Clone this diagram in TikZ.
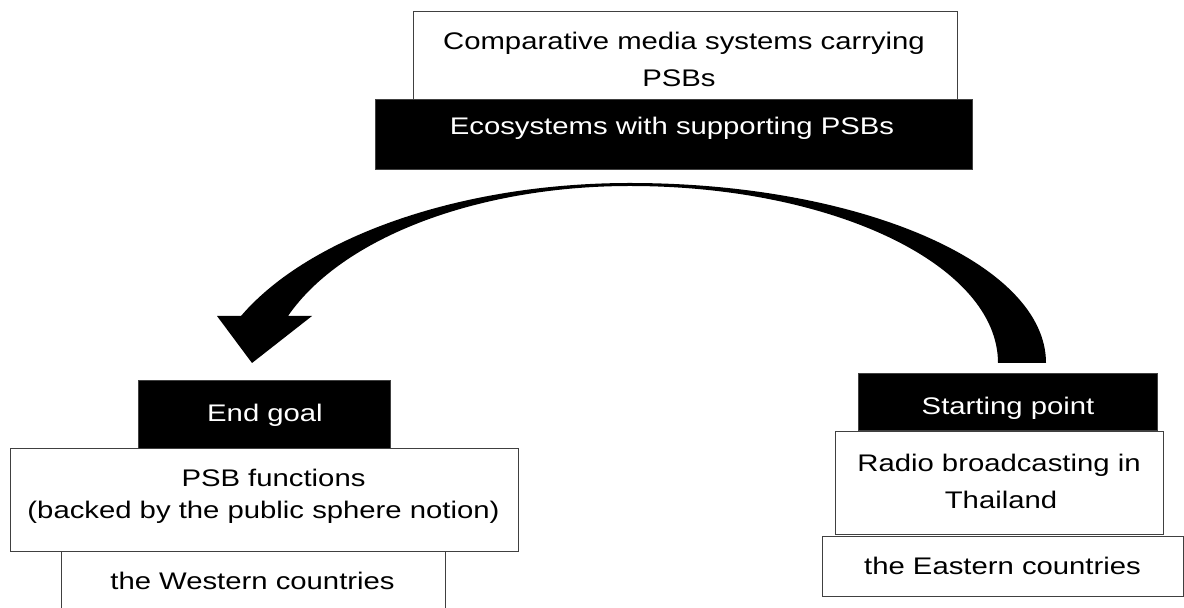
\documentclass[tikz,border=0pt]{standalone}
\usepackage{fontspec}
\setmainfont{Liberation Sans}
\usepackage{graphicx}
\usetikzlibrary{fit}
% labels are set slightly wide
\newcommand{\wtxt}[1]{\scalebox{1.22}[1]{#1}}
\tikzset{
  whitebox/.style={draw=black!75, line width=0.5pt, fill=white, inner sep=0pt, outer sep=0pt},
  blackbox/.style={draw=black!75, line width=0.5pt, fill=black, inner sep=0pt, outer sep=0pt},
  lbl/.style={anchor=base, inner sep=0pt, font=\fontsize{12pt}{14pt}\selectfont, text=black},
  lblw/.style={lbl, text=white},
  bigarrow/.style={fill=black, draw=none},
}
\begin{document}
\begin{tikzpicture}[x=0.5pt, y=-0.5pt]
  \useasboundingbox (0,0) rectangle (1184,608);
  \clip (0,0) rectangle (1184,608);

  % top: comparative systems and ecosystems
  \node[whitebox, fit={(413,12) (957,100)}] (cms) {};
  \node[blackbox, fit={(375,100) (972,170)}] (eco) {};
  \node[lbl] (cmsA) at (684,50) {\wtxt{Comparative media systems carrying}};
  \node[lbl] (cmsB) at (679,86.7) {\wtxt{PSBs}};
  \node[lblw] (ecoT) at (672,135) {\wtxt{Ecosystems with supporting PSBs}};

  % curved block arrow from the starting point to the end goal
  \fill[bigarrow]
    (1046,363) .. controls (1046,263.6) and (859.8,183) .. (630,183)
    .. controls (462.2,183) and (309.6,236) .. (241,316)
    -- (217,316) -- (252,363) -- (312,316) -- (288,316)
    .. controls (342.3,237.2) and (478.3,186) .. (630,186)
    .. controls (833.2,186) and (998,265.2) .. (998,363)
    -- cycle;

  % left column: end goal
  \node[blackbox, fit={(138.3,381) (390,448.3)}] (goal) {};
  \node[whitebox, fit={(61,551.7) (445,640)}] (west) {};
  \node[whitebox, fit={(10,448.3) (518,551.7)}] (func) {};
  \node[lblw] (goalT) at (265,421.7) {\wtxt{End goal}};
  \node[lbl] (funcA) at (273.5,486.7) {\wtxt{PSB functions}};
  \node[lbl] (funcB) at (263.5,518.3) {\wtxt{(backed by the public sphere notion)}};
  \node[lbl] (westT) at (252.5,590) {\wtxt{the Western countries}};

  % right column: starting point
  \node[blackbox, fit={(858.3,373.3) (1157.3,431)}] (start) {};
  \node[whitebox, fit={(835,432) (1163.5,535)}] (radio) {};
  \node[whitebox, fit={(822.7,536.7) (1183,597)}] (east) {};
  \node[lblw] (startT) at (1008,415) {\wtxt{Starting point}};
  \node[lbl] (radioA) at (999,471.7) {\wtxt{Radio broadcasting in}};
  \node[lbl] (radioB) at (1001,508.3) {\wtxt{Thailand}};
  \node[lbl] (eastT) at (1002.5,575) {\wtxt{the Eastern countries}};
\end{tikzpicture}
\end{document}
